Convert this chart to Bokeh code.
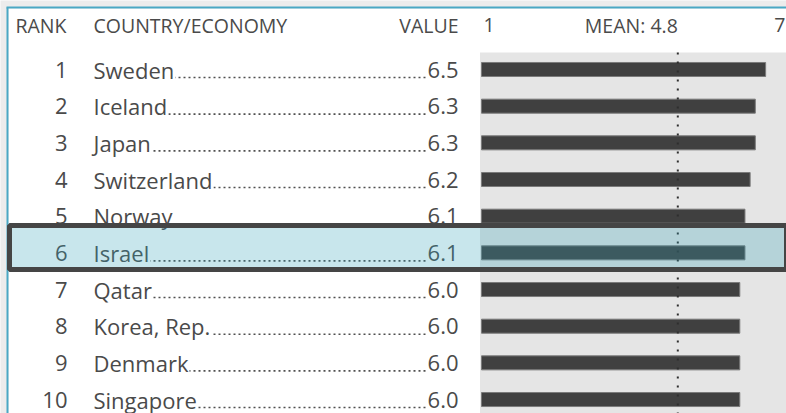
from bokeh.plotting import figure
from bokeh.models import Range1d, ColumnDataSource
from bokeh.core.properties import value
from bokeh.embed import file_html
from bokeh.resources import INLINE

# ---- data ----
ranks = [1, 2, 3, 4, 5, 6, 7, 8, 9, 10]
countries = ["Sweden", "Iceland", "Japan", "Switzerland", "Norway", "Israel",
             "Qatar", "Korea, Rep.", "Denmark", "Singapore"]
values = [6.5, 6.3, 6.3, 6.2, 6.1, 6.1, 6.0, 6.0, 6.0, 6.0]
scale_min = 1
scale_max = 7
mean_value = 4.8
highlight = "Israel"
headers = ["RANK", "COUNTRY/ECONOMY", "VALUE"]

FONT = value("Open Sans")
TXT = "#4a4a4a"
ROW_FS = "22px"
HEAD_FS = "19.5px"

rows = list(range(len(countries)))
src = ColumnDataSource(dict(
    row=rows,
    rank=[str(r) for r in ranks],
    name=countries,
    val=values,
    vtxt=["%.1f" % v for v in values],
    left=[scale_min] * len(values),
))

# layout (pixel coordinates of the 786x413 canvas)
W, H = 786, 413
PX_PER_UNIT = 51.66
X1_PX = 481.0
ROW0_PX = 69.0
ROW_STEP = 36.67
xs = scale_min - X1_PX / PX_PER_UNIT
xe = scale_min + (W - X1_PX) / PX_PER_UNIT
ys = (H - ROW0_PX) / ROW_STEP
ye = (0 - ROW0_PX) / ROW_STEP

p = figure(width=W, height=H, output_backend="svg", toolbar_location=None,
           x_range=Range1d(xs, xe), y_range=Range1d(ys, ye),
           x_axis_location=None, y_axis_location=None,
           min_border=0, outline_line_color=None,
           background_fill_color="#ececec", border_fill_color="#ececec")
p.grid.visible = False
p.extra_x_ranges = {"px": Range1d(0, W)}
p.extra_y_ranges = {"py": Range1d(H, 0)}

# white panel with teal top/left border
p.quad(left=[8], right=[W + 10], top=[8], bottom=[H + 10], fill_color="white",
       line_color=None, x_range_name="px", y_range_name="py")
p.segment(x0=[6, 7], y0=[7, 7], x1=[W + 10, 7], y1=[7, H + 10], line_color="#4aa8c4",
          line_width=2, x_range_name="px", y_range_name="py")

# grey bar panel
p.quad(left=[479.5], right=[W + 10], top=[52], bottom=[H + 10], fill_color="#e5e5e5",
       line_color=None, x_range_name="px", y_range_name="py")

# bars
p.hbar(y="row", left="left", right="val", height=0.382, source=src,
       fill_color="#404040", line_color="#7a7a7a", line_width=1)

# mean line
p.segment(x0=[mean_value], x1=[mean_value], y0=[52], y1=[H + 10], y_range_name="py",
          line_color="#2e2e2e", line_width=2, line_dash="2 7")

# leader dots
dot_y = [r + 8.0 / ROW_STEP for r in rows]
p.segment(x0=[93] * len(rows), x1=[426] * len(rows), y0=dot_y, y1=dot_y,
          x_range_name="px", line_color="#505050", line_width=1.6, line_dash="2 3")

# rank / name / value text
p.text(x=67, y="row", text="rank", source=src, x_range_name="px",
       text_font=FONT, text_font_size=ROW_FS, text_color=TXT,
       text_align="right", text_baseline="alphabetic", y_offset=0)
p.text(x=92, y="row", text="name", source=src, x_range_name="px",
       text_font=FONT, text_font_size=ROW_FS, text_color=TXT,
       text_align="left", text_baseline="alphabetic", y_offset=0,
       background_fill_color="white", padding=1)
p.text(x=459, y="row", text="vtxt", source=src, x_range_name="px",
       text_font=FONT, text_font_size=ROW_FS, text_color=TXT,
       text_align="right", text_baseline="alphabetic", y_offset=0,
       background_fill_color="white", padding=1)

# headers
HY = 24.5
p.text(x=[15, 93], y=[HY, HY], text=headers[:2], x_range_name="px", y_range_name="py",
       text_font=FONT, text_font_size=HEAD_FS, text_color=TXT,
       text_align="left", text_baseline="alphabetic")
p.text(x=[458], y=[HY], text=[headers[2]], x_range_name="px", y_range_name="py",
       text_font=FONT, text_font_size=HEAD_FS, text_color=TXT,
       text_align="right", text_baseline="alphabetic")
p.text(x=[scale_min], y=[HY], text=[str(scale_min)], y_range_name="py",
       text_font=FONT, text_font_size=HEAD_FS, text_color=TXT,
       text_align="left", text_baseline="alphabetic", x_offset=2)
p.text(x=[mean_value], y=[HY], text=["MEAN: %.1f" % mean_value], y_range_name="py",
       text_font=FONT, text_font_size=HEAD_FS, text_color=TXT,
       text_align="right", text_baseline="alphabetic")
p.text(x=[W - 1], y=[HY], text=[str(scale_max)], x_range_name="px", y_range_name="py",
       text_font=FONT, text_font_size=HEAD_FS, text_color=TXT,
       text_align="right", text_baseline="alphabetic")

# highlighted row band (tinted overlay + dark frame)
hi = countries.index(highlight)
band_src = ColumnDataSource(dict(row=[hi - 5.3 / ROW_STEP]))
p.hbar(y="row", left=scale_min - (X1_PX - 9) / PX_PER_UNIT, right=xe + 1,
       height=44 / ROW_STEP, source=band_src,
       fill_color="#33a2b8", fill_alpha=0.27, line_color="#454545", line_width=5)

open("out.html", "w").write(file_html(p, INLINE))
